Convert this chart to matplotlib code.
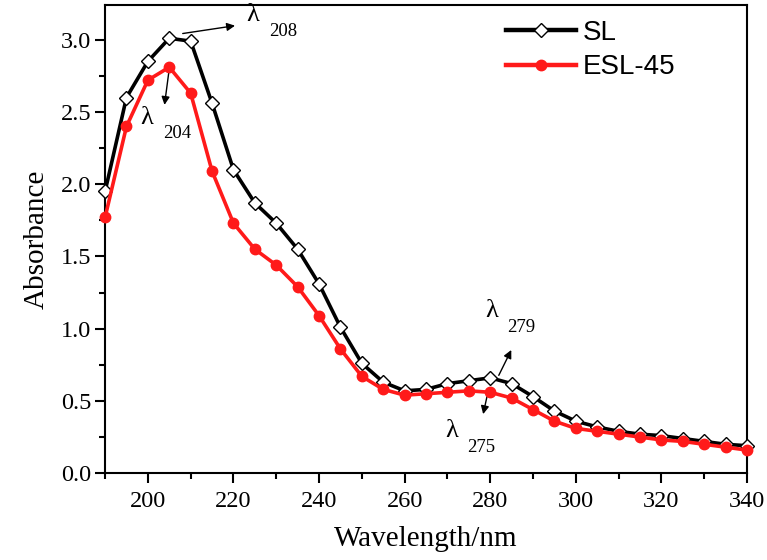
import matplotlib
matplotlib.use("Agg")
import matplotlib.pyplot as plt
from matplotlib.ticker import MultipleLocator

# Wavelength (nm), one point every 5 nm
wavelength = list(range(190, 345, 5))

sl_abs = [1.95, 2.60, 2.85, 3.01, 2.99, 2.56, 2.10, 1.87, 1.73, 1.55,
          1.31, 1.01, 0.76, 0.63, 0.57, 0.58, 0.62, 0.64, 0.66, 0.62,
          0.53, 0.43, 0.36, 0.32, 0.29, 0.27, 0.26, 0.24, 0.22, 0.20, 0.19]

esl_abs = [1.77, 2.40, 2.72, 2.81, 2.63, 2.09, 1.73, 1.55, 1.44, 1.29,
           1.09, 0.86, 0.67, 0.58, 0.54, 0.55, 0.56, 0.57, 0.56, 0.52,
           0.44, 0.36, 0.31, 0.29, 0.27, 0.25, 0.23, 0.22, 0.20, 0.18, 0.16]

series_labels = ["SL", "ESL-45"]

serif = ["Liberation Serif", "DejaVu Serif"]
sans = ["Liberation Sans", "DejaVu Sans"]

fig = plt.figure(figsize = (7.67, 5.6), dpi = 100)
ax = fig.add_axes([0.137, 0.155, 0.837, 0.836])

ax.plot(wavelength, sl_abs, color = "black", lw = 2.6, marker = "D", markersize = 7,
        markerfacecolor = "white", markeredgecolor = "black", markeredgewidth = 1.0,
        label = series_labels[0], clip_on = False, zorder = 3)
ax.plot(wavelength, esl_abs, color = "#ff1a1a", lw = 2.6, marker = "o", markersize = 7.5,
        markerfacecolor = "#ff1a1a", markeredgecolor = "#ff1a1a",
        label = series_labels[1], clip_on = False, zorder = 4)

ax.set_xlim(190, 340)
ax.set_ylim(0, 3.24)
ax.xaxis.set_major_locator(MultipleLocator(20))
ax.xaxis.set_minor_locator(MultipleLocator(10))
ax.yaxis.set_major_locator(MultipleLocator(0.5))
ax.yaxis.set_minor_locator(MultipleLocator(0.25))
ax.yaxis.set_major_formatter(plt.FormatStrFormatter("%.1f"))

ax.tick_params(which = "major", direction = "out", length = 7, width = 1.5, labelsize = 17.5)
ax.tick_params(axis = "x", which = "major", pad = 6)
ax.tick_params(axis = "y", which = "major", pad = 3)
ax.tick_params(which = "minor", direction = "out", length = 4, width = 1.5)
for lab in ax.get_xticklabels() + ax.get_yticklabels():
    lab.set_family(serif)
for sp in ax.spines.values():
    sp.set_linewidth(1.5)

ax.set_xlabel("Wavelength/nm", family = serif, fontsize = 21, labelpad = 10)
ax.set_ylabel("Absorbance", family = serif, fontsize = 21, labelpad = 8)

leg = ax.legend(loc = "upper left", bbox_to_anchor = (0.625, 0.968), frameon = False,
                prop = {"family": sans, "size": 20}, handlelength = 2.5,
                handletextpad = 0.25, labelspacing = 0.3, borderpad = 0, borderaxespad = 0)
for h in leg.legend_handles:
    h.set_linewidth(3.2)

# peak annotations
arrow = dict(arrowstyle = "-|>", color = "black", lw = 1.0, mutation_scale = 12)
ax.annotate("", xy = (221, 3.10), xytext = (207.5, 3.04), arrowprops = arrow)
ax.annotate("", xy = (203.8, 2.53), xytext = (205, 2.80), arrowprops = arrow)
ax.annotate("", xy = (285.2, 0.87), xytext = (281.7, 0.66), arrowprops = arrow)
ax.annotate("", xy = (278.2, 0.39), xytext = (279.6, 0.58), arrowprops = arrow)

peak_labels = [("208", 224.6, 3.17), ("204", 199.8, 2.46), ("279", 280.3, 1.12), ("275", 270.9, 0.29)]
for num, x, y in peak_labels:
    ax.text(x, y, "λ", family = serif, fontsize = 19, ha = "center", va = "center")
    ax.text(x + 7, y - 0.11, num, family = serif, fontsize = 13.5, ha = "center", va = "center")

fig.savefig("out.png", dpi = 100)
